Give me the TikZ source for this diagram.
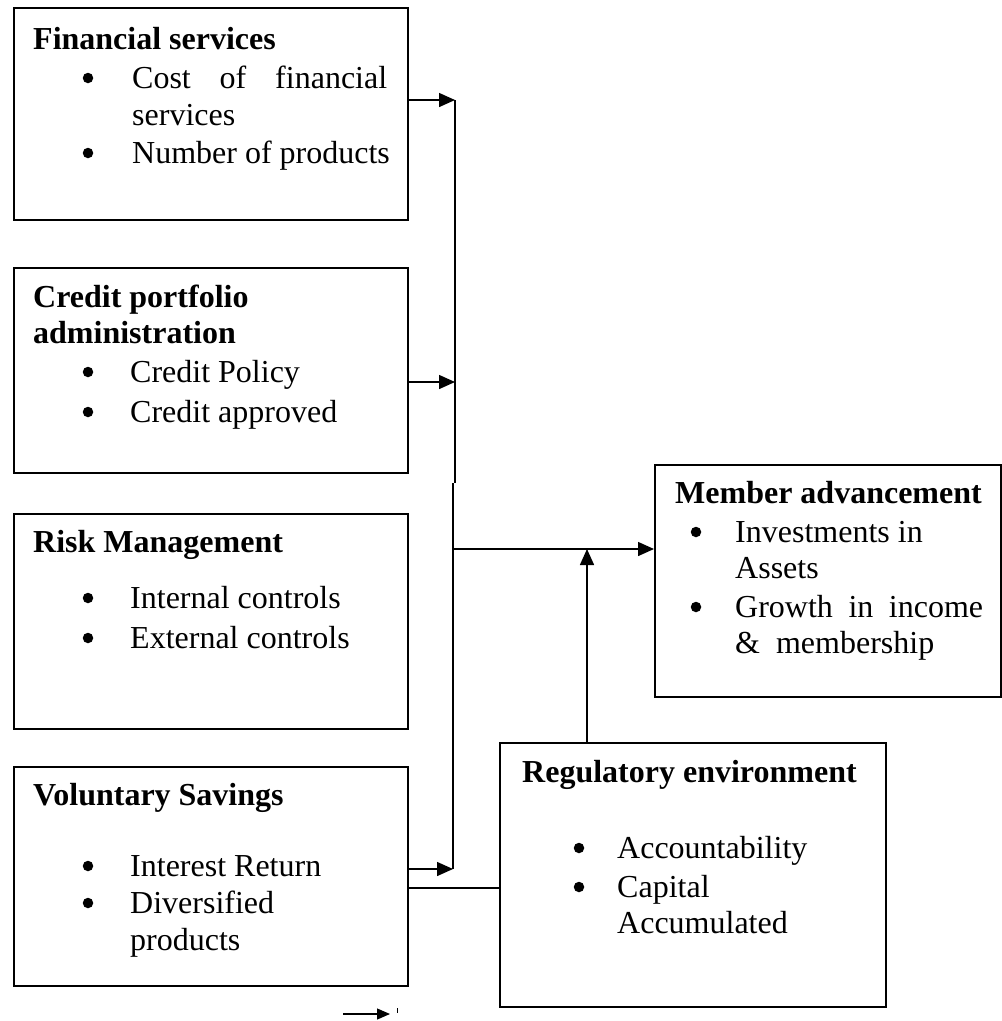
\documentclass[tikz,border=0pt]{standalone}
\usepackage{fontspec}
\setmainfont{Liberation Serif}
\usetikzlibrary{arrows.meta}
\begin{document}
\begin{tikzpicture}[x=1pt,y=-1pt,
  box/.style={draw,line width=1.5pt,rectangle,inner sep=0pt,anchor=north west},
  txt/.style={anchor=base west,inner sep=0pt,font=\fontsize{32}{37}\selectfont},
  hd/.style={anchor=base west,inner sep=0pt,font=\fontsize{32}{37}\selectfont\bfseries},
  bul/.style={circle,fill=black,inner sep=0pt,minimum size=10.5pt,yshift=10pt},
  conn/.style={line width=1.5pt},
  arr/.style={conn,-{Triangle[length=16pt,width=14pt]}},
  smallarr/.style={line width=1.2pt,-{Triangle[length=13pt,width=11pt]}}]
\useasboundingbox (0,0) rectangle (1002,1021);

% boxes
\node[box,minimum width=394pt,minimum height=212pt] (fin) at (13,7) {};
\node[box,minimum width=394pt,minimum height=205pt] (cred) at (13,267) {};
\node[box,minimum width=394pt,minimum height=215pt] (risk) at (13,513) {};
\node[box,minimum width=394pt,minimum height=219pt] (vol) at (13,766) {};
\node[box,minimum width=346pt,minimum height=232pt] (mem) at (654,464) {};
\node[box,minimum width=386pt,minimum height=264pt] (reg) at (499,742) {};

% Financial services
\node[hd] (finh) at (33,49) {Financial services};
\node[bul] (finb1) at (88,88) {};
\node[txt] (fint1) at (132,88) {\makebox[255pt][s]{Cost of financial}};
\node[txt] (fint1b) at (132,125) {services};
\node[bul] (finb2) at (88,163) {};
\node[txt] (fint2) at (132,163) {Number of products};

% Credit portfolio administration
\node[hd] (credh1) at (33,307) {Credit portfolio};
\node[hd] (credh2) at (33,343) {administration};
\node[bul] (credb1) at (88,382) {};
\node[txt] (credt1) at (130,382) {Credit Policy};
\node[bul] (credb2) at (88,422) {};
\node[txt] (credt2) at (130,422) {Credit approved};

% Risk Management
\node[hd] (riskh) at (33,552) {Risk Management};
\node[bul] (riskb1) at (88,608) {};
\node[txt] (riskt1) at (130,608) {Internal controls};
\node[bul] (riskb2) at (88,648) {};
\node[txt] (riskt2) at (130,648) {External controls};

% Voluntary Savings
\node[hd] (volh) at (33,805) {Voluntary Savings};
\node[bul] (volb1) at (88,876) {};
\node[txt] (volt1) at (130,876) {Interest Return};
\node[bul] (volb2) at (88,913) {};
\node[txt] (volt2) at (130,913) {Diversified};
\node[txt] (volt2b) at (130,950) {products};

% Member advancement
\node[hd] (memh) at (675,503) {Member advancement};
\node[bul] (memb1) at (696,542) {};
\node[txt] (memt1) at (735,542) {Investments in};
\node[txt] (memt1b) at (735,578) {Assets};
\node[bul] (memb2) at (696,617) {};
\node[txt] (memt2) at (735,617) {\makebox[248pt][s]{Growth in income}};
\node[txt] (memt2b) at (735,653) {\&\ \ membership};

% Regulatory environment
\node[hd] (regh) at (522,782) {Regulatory environment};
\node[bul] (regb1) at (579,858) {};
\node[txt] (regt1) at (617,858) {Accountability};
\node[bul] (regb2) at (579,897) {};
\node[txt] (regt2) at (617,897) {Capital};
\node[txt] (regt2b) at (617,933) {Accumulated};

% junction coordinates
\coordinate (j1) at (455,100);
\coordinate (j2) at (455,382);
\coordinate (jm) at (455,483);
\coordinate (jn) at (453,483);
\coordinate (jc) at (453,549);
\coordinate (j4) at (453,869);
\coordinate (ru) at (587,742);
\coordinate (vr) at (408,888);
\coordinate (sa1) at (343,1014);
\coordinate (sa2) at (390,1014);
\coordinate (tk1) at (397,1008);
\coordinate (tk2) at (397,1013);

% connectors
\draw[conn] (j1) -- (jm);
\draw[conn] (jn) -- (j4);
\draw[arr] (fin.east |- j1) -- (j1);
\draw[arr] (cred.east |- j2) -- (j2);
\draw[arr] (vol.east |- j4) -- (j4);
\draw[arr] (jc) -- (mem.west |- jc);
\draw[arr] (ru) -- (ru |- jc);
\draw[conn] (vol.east |- vr) -- (reg.west |- vr);
\draw[smallarr] (sa1) -- (sa2);
\draw[line width=1pt] (tk1) -- (tk2);
\end{tikzpicture}
\end{document}
